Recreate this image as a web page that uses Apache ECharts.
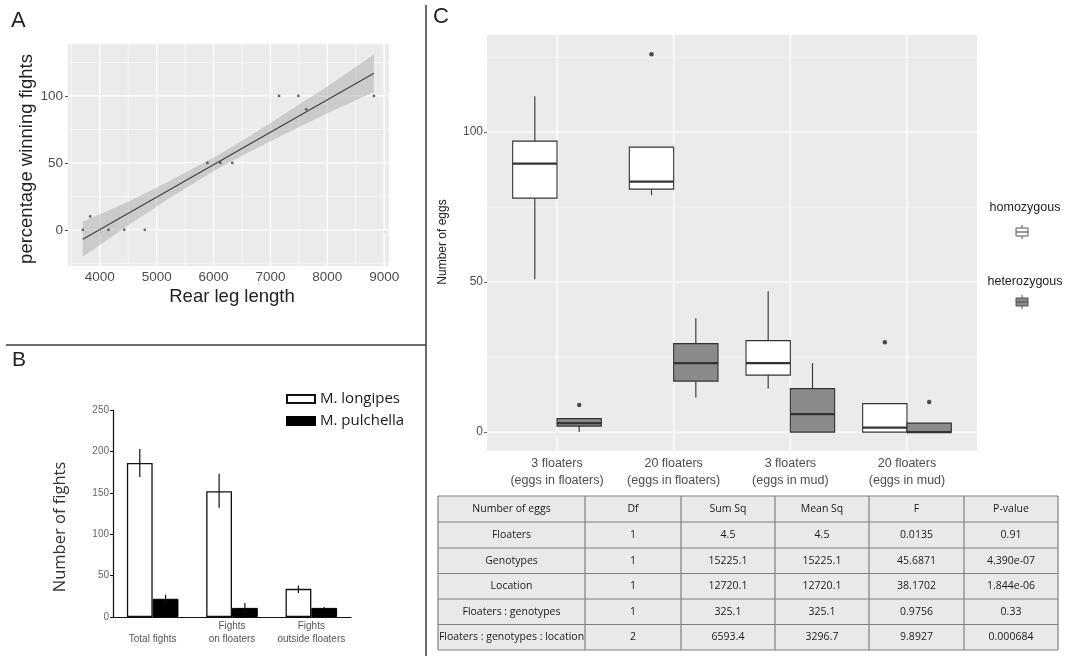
<!DOCTYPE html>
<html><head><meta charset="utf-8">
<script src="https://cdn.jsdelivr.net/npm/echarts@6/dist/echarts.min.js"></script>
<style>html,body{margin:0;padding:0;background:#fff}#c{width:1071px;height:656px}</style>
</head><body><div id="c"></div>
<script>
// ---------- Panel A data ----------
const legLength = [3700, 3830, 4150, 4430, 4790, 5890, 6120, 6330, 7150, 7490, 7630, 8820];
const winPct    = [0, 10, 0, 0, 0, 50, 50, 50, 100, 100, 90, 100];
const fitX = [3700, 8820];
const fitY = [-7, 117];
const bandX  = [3700, 4500, 5200, 6000, 6600, 7300, 8000, 8820];
const bandLo = [-20, 3.5, 23, 44, 57.5, 72.5, 87, 103];
const bandHi = [6, 21, 36, 54, 69, 88, 107, 131];
const aXTicks = [4000, 5000, 6000, 7000, 8000, 9000];
const aXMinor = [3500, 4500, 5500, 6500, 7500, 8500];
const aYTicks = [0, 50, 100];
const aYMinor = [-25, 25, 75, 125];

// ---------- Panel B data ----------
const bCategories = ['\nTotal fights', 'Fights\non floaters', 'Fights\noutside floaters'];
const longipes   = [186, 152, 34];
const longipesLo = [169, 132, 29];
const longipesHi = [203, 173, 38];
const pulchella   = [22, 11, 11];
const pulchellaLo = [17, 5, 10];
const pulchellaHi = [27, 17, 12];

// ---------- Panel C data ----------
const cGroups = ['3 floaters\n(eggs in floaters)', '20 floaters\n(eggs in floaters)', '3 floaters\n(eggs in mud)', '20 floaters\n(eggs in mud)'];
const homoLow  = [51, 79, 14.5, 0];
const homoQ1   = [78, 81, 19, 0];
const homoMed  = [89.5, 83.5, 23, 1.5];
const homoQ3   = [97, 95, 30.5, 9.5];
const homoHigh = [112, 95, 47, 9.5];
const hetLow  = [0, 11.5, 0, 0];
const hetQ1   = [2, 17, 0, 0];
const hetMed  = [3, 23, 6, 0];
const hetQ3   = [4.5, 29.5, 14.5, 3];
const hetHigh = [4.5, 38, 23, 3];
const homoOutGroup = [2, 4];
const homoOutVal   = [126, 30];
const hetOutGroup  = [1, 4];
const hetOutVal    = [9, 10];
const cYTicks = [0, 50, 100];
const cYMinor = [25, 75, 125];
const cXTicks = [1, 2, 3, 4];

// ---------- Table ----------
const tableHeader = ['Number of eggs', 'Df', 'Sum Sq', 'Mean Sq', 'F', 'P-value'];
const tableRows = [
  ['Floaters', '1', '4.5', '4.5', '0.0135', '0.91'],
  ['Genotypes', '1', '15225.1', '15225.1', '45.6871', '4.390e-07'],
  ['Location', '1', '12720.1', '12720.1', '38.1702', '1.844e-06'],
  ['Floaters : genotypes', '1', '325.1', '325.1', '0.9756', '0.33'],
  ['Floaters : genotypes : location', '2', '6593.4', '3296.7', '9.8927', '0.000684']
];

// ---------- layout constants ----------
const A_X = [3440, 9085], A_Y = [-27, 138.8];
const C_X = [0.4, 4.6], C_Y = [-6.3, 132.4];
const SANS = 'Liberation Sans, Arial, sans-serif';
const MYR = 'Open Sans, Noto Sans, sans-serif';
const DODGE = 0.19;

function gridLines(xr, yr, xs, xsMinor, ys, ysMinor) {
  const d = [];
  xsMinor.forEach(v => d.push([v, yr[0], v, yr[1], 0]));
  ysMinor.forEach(v => d.push([xr[0], v, xr[1], v, 0]));
  xs.forEach(v => d.push([v, yr[0], v, yr[1], 1]));
  ys.forEach(v => d.push([xr[0], v, xr[1], v, 1]));
  return d;
}
function gridRender(params, api) {
  const p1 = api.coord([api.value(0), api.value(1)]);
  const p2 = api.coord([api.value(2), api.value(3)]);
  const major = api.value(4) === 1;
  return {type: 'line', shape: {x1: p1[0], y1: p1[1], x2: p2[0], y2: p2[1]},
    style: {stroke: '#ffffff', lineWidth: major ? 1.3 : 0.7, opacity: major ? 1 : 0.8}};
}

function boxData(side, lo, q1, md, q3, hi) {
  return lo.map((v, i) => [i + 1, side, v, q1[i], md[i], q3[i], hi[i]]);
}
function boxRender(params, api) {
  const g = api.value(0), side = api.value(1);
  const cx = g + side * DODGE;
  const pl = api.coord([cx - DODGE, api.value(5)]);
  const pr = api.coord([cx + DODGE, api.value(3)]);
  const pc = api.coord([cx, api.value(2)]);
  const yHigh = api.coord([cx, api.value(6)])[1];
  const yMed = api.coord([cx, api.value(4)])[1];
  const fill = side < 0 ? '#ffffff' : '#8a8a8a';
  const st = {stroke: '#333333', lineWidth: 1.1};
  return {type: 'group', children: [
    {type: 'line', shape: {x1: pc[0], y1: yHigh, x2: pc[0], y2: pl[1]}, style: st},
    {type: 'line', shape: {x1: pc[0], y1: pr[1], x2: pc[0], y2: pc[1]}, style: st},
    {type: 'rect', shape: {x: pl[0], y: pl[1], width: pr[0] - pl[0], height: pr[1] - pl[1]}, style: {fill: fill, stroke: '#333333', lineWidth: 1.1}},
    {type: 'line', shape: {x1: pl[0], y1: yMed, x2: pr[0], y2: yMed}, style: {stroke: '#333333', lineWidth: 2.2}}
  ]};
}

function errRender(params, api) {
  const c = api.value(0), side = api.value(3);
  const band = api.size([1, 0])[0];
  const off = side * band * 0.1625;
  const p1 = api.coord([c, api.value(1)]);
  const p2 = api.coord([c, api.value(2)]);
  return {type: 'line', shape: {x1: p1[0] + off, y1: p1[1], x2: p1[0] + off, y2: p2[1]}, style: {stroke: '#111', lineWidth: 1.2}};
}

// table graphics
const colEdges = [438, 585, 681, 775, 869, 964, 1058];
const rowEdges = [496, 522, 548, 573.5, 599, 624.5, 650];
const tableEls = [];
tableEls.push({type: 'rect', shape: {x: colEdges[0], y: rowEdges[0], width: colEdges[6] - colEdges[0], height: rowEdges[6] - rowEdges[0]}, style: {fill: '#e9e9e9', stroke: 'none'}});
rowEdges.forEach(y => tableEls.push({type: 'line', shape: {x1: colEdges[0], y1: y, x2: colEdges[6], y2: y}, style: {stroke: '#808080', lineWidth: 1.2}}));
colEdges.forEach(x => tableEls.push({type: 'line', shape: {x1: x, y1: rowEdges[0], x2: x, y2: rowEdges[6]}, style: {stroke: '#808080', lineWidth: 1.2}}));
[tableHeader].concat(tableRows).forEach((row, r) => {
  row.forEach((txt, c) => {
    tableEls.push({type: 'text', x: (colEdges[c] + colEdges[c + 1]) / 2, y: (rowEdges[r] + rowEdges[r + 1]) / 2,
      style: {text: txt, fill: '#1a1a1a', font: '10.5px ' + MYR, align: 'center', verticalAlign: 'middle'}});
  });
});

function legendKey(x, y, fill) {
  return [
    {type: 'line', shape: {x1: x + 6, y1: y, x2: x + 6, y2: y + 14}, style: {stroke: '#555', lineWidth: 1}},
    {type: 'rect', shape: {x: x, y: y + 3, width: 12, height: 8}, style: {fill: fill, stroke: '#555', lineWidth: 1}},
    {type: 'line', shape: {x1: x, y1: y + 7, x2: x + 12, y2: y + 7}, style: {stroke: '#555', lineWidth: 1.2}}
  ];
}

const graphics = [
  {type: 'line', shape: {x1: 426, y1: 5, x2: 426, y2: 656}, style: {stroke: '#3a3a3a', lineWidth: 1.5}},
  {type: 'line', shape: {x1: 6, y1: 345, x2: 426, y2: 345}, style: {stroke: '#3a3a3a', lineWidth: 1.5}},
  {type: 'text', x: 11, y: 10, style: {text: 'A', font: '22px ' + SANS, fill: '#222'}},
  {type: 'text', x: 12, y: 350, style: {text: 'B', font: '21px ' + SANS, fill: '#222'}},
  {type: 'text', x: 433, y: 6, style: {text: 'C', font: '22px ' + SANS, fill: '#222'}},
  {type: 'text', x: 232, y: 297, style: {text: 'Rear leg length', font: '18.5px ' + SANS, fill: '#222', align: 'center', verticalAlign: 'middle'}},
  {type: 'text', x: 27, y: 159, rotation: Math.PI / 2, style: {text: 'percentage winning fights', font: '18.5px ' + SANS, fill: '#222', align: 'center', verticalAlign: 'middle'}},
  {type: 'text', x: 60, y: 527, rotation: Math.PI / 2, style: {text: 'Number of fights', font: '16.5px ' + MYR, fill: '#333', align: 'center', verticalAlign: 'middle'}},
  {type: 'text', x: 443, y: 242, rotation: Math.PI / 2, style: {text: 'Number of eggs', font: '12px ' + SANS, fill: '#222', align: 'center', verticalAlign: 'middle'}},
  {type: 'text', x: 1025, y: 208, style: {text: 'homozygous', font: '12.5px ' + SANS, fill: '#222', align: 'center', verticalAlign: 'middle'}},
  {type: 'text', x: 1025, y: 282, style: {text: 'heterozygous', font: '12.5px ' + SANS, fill: '#222', align: 'center', verticalAlign: 'middle'}}
].concat(legendKey(1016, 225, '#ffffff'), legendKey(1016, 295, '#8a8a8a'), tableEls);

const chart = echarts.init(document.getElementById('c'));
chart.setOption({
  animation: false,
  backgroundColor: '#ffffff',
  grid: [
    {left: 68, top: 44, width: 321, height: 222, show: true, backgroundColor: '#ebebeb', borderWidth: 0},
    {left: 113, top: 410, width: 238, height: 207},
    {left: 487, top: 35, width: 490, height: 416, show: true, backgroundColor: '#ebebeb', borderWidth: 0}
  ],
  legend: {
    data: ['M. longipes', 'M. pulchella'], orient: 'vertical', left: 281, top: 385,
    itemWidth: 28, itemHeight: 8, itemGap: 4, icon: 'rect',
    textStyle: {fontSize: 15, color: '#1a1a1a', fontFamily: MYR, lineHeight: 18}
  },
  xAxis: [
    {gridIndex: 0, type: 'value', min: A_X[0], max: A_X[1], axisLine: {show: false},
      axisTick: {show: true, customValues: aXTicks, length: 3, lineStyle: {color: '#555'}},
      axisLabel: {customValues: aXTicks, formatter: v => String(v), color: '#4d4d4d', fontSize: 13.5, fontFamily: SANS, margin: 4},
      splitLine: {show: false}},
    {gridIndex: 1, type: 'category', data: bCategories,
      axisLine: {show: true, lineStyle: {color: '#111', width: 1.2}}, axisTick: {show: false},
      axisLabel: {color: '#555', fontSize: 10, fontFamily: SANS, lineHeight: 13, margin: 3, interval: 0},
      splitLine: {show: false}},
    {gridIndex: 2, type: 'value', min: C_X[0], max: C_X[1], axisLine: {show: false},
      axisTick: {show: true, customValues: cXTicks, length: 3, lineStyle: {color: '#666'}},
      axisLabel: {customValues: cXTicks, formatter: v => cGroups[Math.round(v) - 1], color: '#4d4d4d', fontSize: 12.5, fontFamily: SANS, lineHeight: 17, margin: 4},
      splitLine: {show: false}}
  ],
  yAxis: [
    {gridIndex: 0, type: 'value', min: A_Y[0], max: A_Y[1], axisLine: {show: false},
      axisTick: {show: true, customValues: aYTicks, length: 3, lineStyle: {color: '#555'}},
      axisLabel: {customValues: aYTicks, formatter: v => String(v), color: '#4d4d4d', fontSize: 13.5, fontFamily: SANS, margin: 5},
      splitLine: {show: false}},
    {gridIndex: 1, type: 'value', min: 0, max: 250, interval: 50,
      axisLine: {show: true, lineStyle: {color: '#111', width: 1.2}},
      axisTick: {show: true, length: 3, lineStyle: {color: '#111'}},
      axisLabel: {color: '#666', fontSize: 10, fontFamily: SANS, margin: 4},
      splitLine: {show: false}},
    {gridIndex: 2, type: 'value', min: C_Y[0], max: C_Y[1], axisLine: {show: false},
      axisTick: {show: true, customValues: cYTicks, length: 3, lineStyle: {color: '#666'}},
      axisLabel: {customValues: cYTicks, formatter: v => String(v), color: '#4d4d4d', fontSize: 12, fontFamily: SANS, margin: 4},
      splitLine: {show: false}}
  ],
  series: [
    // Panel A
    {type: 'custom', name: 'gridA', xAxisIndex: 0, yAxisIndex: 0, z: 1, silent: true,
      data: gridLines(A_X, A_Y, aXTicks, aXMinor, aYTicks, aYMinor), renderItem: gridRender},
    {type: 'custom', name: 'band', xAxisIndex: 0, yAxisIndex: 0, z: 2, silent: true,
      data: bandX.map((x, i) => [x, bandLo[i], bandHi[i]]),
      renderItem: function (params, api) {
        if (params.dataIndex !== 0) return {type: 'group', children: []};
        const pts = [];
        for (let i = 0; i < bandX.length; i++) pts.push(api.coord([bandX[i], bandLo[i]]));
        for (let i = bandX.length - 1; i >= 0; i--) pts.push(api.coord([bandX[i], bandHi[i]]));
        return {type: 'polygon', shape: {points: pts}, style: {fill: '#9a9a9a', opacity: 0.4}};
      }},
    {type: 'line', name: 'fit', xAxisIndex: 0, yAxisIndex: 0, z: 3, showSymbol: false, silent: true,
      data: fitX.map((x, i) => [x, fitY[i]]), lineStyle: {color: '#3d3d3d', width: 1.1}},
    {type: 'scatter', name: 'points', xAxisIndex: 0, yAxisIndex: 0, z: 4, symbolSize: 2.8,
      data: legLength.map((x, i) => [x, winPct[i]]), itemStyle: {color: '#444'}},
    // Panel B
    {type: 'bar', name: 'M. longipes', xAxisIndex: 1, yAxisIndex: 1, data: longipes,
      barGap: '0%', barCategoryGap: '35%', itemStyle: {color: '#ffffff', borderColor: '#111', borderWidth: 1.3}},
    {type: 'bar', name: 'M. pulchella', xAxisIndex: 1, yAxisIndex: 1, data: pulchella,
      barGap: '0%', barCategoryGap: '35%', itemStyle: {color: '#000000', borderColor: '#000', borderWidth: 1}},
    {type: 'custom', name: 'errB', xAxisIndex: 1, yAxisIndex: 1, z: 5, silent: true,
      data: longipes.map((v, i) => [i, longipesLo[i], longipesHi[i], -1]).concat(pulchella.map((v, i) => [i, pulchellaLo[i], pulchellaHi[i], 1])),
      renderItem: errRender},
    // Panel C
    {type: 'custom', name: 'gridC', xAxisIndex: 2, yAxisIndex: 2, z: 1, silent: true,
      data: gridLines(C_X, C_Y, cXTicks, [], cYTicks, cYMinor), renderItem: gridRender},
    {type: 'custom', name: 'homozygous', xAxisIndex: 2, yAxisIndex: 2, z: 3,
      data: boxData(-1, homoLow, homoQ1, homoMed, homoQ3, homoHigh), renderItem: boxRender},
    {type: 'custom', name: 'heterozygous', xAxisIndex: 2, yAxisIndex: 2, z: 3,
      data: boxData(1, hetLow, hetQ1, hetMed, hetQ3, hetHigh), renderItem: boxRender},
    {type: 'scatter', name: 'outliers', xAxisIndex: 2, yAxisIndex: 2, z: 4, symbolSize: 4.5,
      data: homoOutGroup.map((g, i) => [g - DODGE, homoOutVal[i]]).concat(hetOutGroup.map((g, i) => [g + DODGE, hetOutVal[i]])),
      itemStyle: {color: '#222'}}
  ],
  graphic: {elements: graphics}
});
</script></body></html>
